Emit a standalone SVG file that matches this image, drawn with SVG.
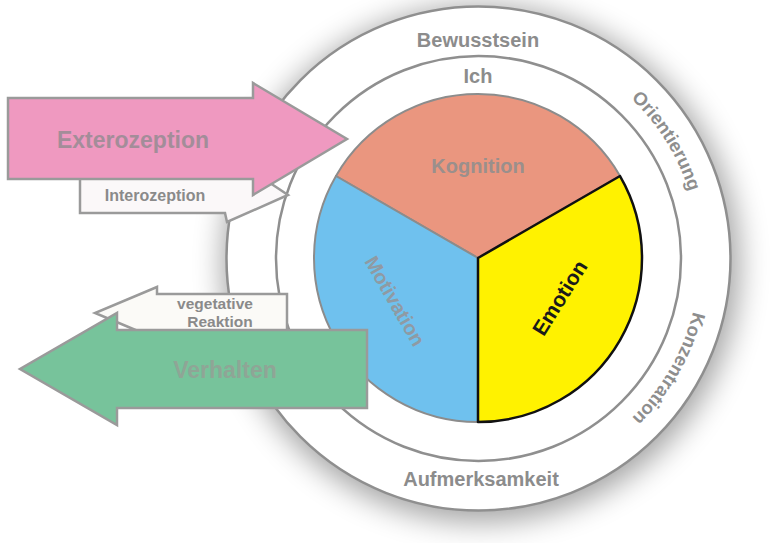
<svg xmlns="http://www.w3.org/2000/svg" width="772" height="543" viewBox="0 0 772 543">
  <style>
    .ring { fill: #ffffff; stroke: #8f8f8f; stroke-width: 2.5; }
    .lbl { font-family: "Liberation Sans", Arial, sans-serif; font-weight: bold; fill: #8c8c8c; text-anchor: middle; }
    .arc { font-family: "Liberation Sans", Arial, sans-serif; font-size: 18.5px; font-weight: bold; fill: #8e8e8e; }
    .arrow { stroke: #9a9a9a; stroke-width: 2.5; stroke-linejoin: miter; }
    .pie { stroke: #8c8c8c; stroke-width: 2; stroke-linejoin: round; }
    .big { font-size: 23px; fill: #9a9a9a; }
    .small { font-size: 15.5px; fill: #8a8a8a; }
  </style>
  <defs>
    <filter id="shadow" x="-30%" y="-30%" width="160%" height="160%">
      <feGaussianBlur stdDeviation="15"/>
    </filter>
    <path id="arcOri" d="M589,67.1 A221,221 0 0 1 698.96,243.08" fill="none"/>
    <path id="arcKon" d="M699.37,266.21 A221,221 0 0 1 595.61,445.92" fill="none"/>
  </defs>

  <rect x="0" y="0" width="772" height="543" fill="#ffffff"/>

  <g id="rings">
    <circle cx="481" cy="264" r="258" fill="#000000" opacity="0.36" filter="url(#shadow)"/>
    <circle id="outer-ring" class="ring" cx="478.5" cy="258.5" r="252"/>
    <circle id="inner-ring" class="ring" cx="478.5" cy="258.5" r="202.5"/>
  </g>

  <g id="bewusstsein"><text class="lbl" x="478" y="47" font-size="20">Bewusstsein</text></g>
  <g id="ich"><text class="lbl" x="478" y="83" font-size="20">Ich</text></g>
  <g id="aufmerksamkeit"><text class="lbl" x="481" y="486" font-size="20">Aufmerksamkeit</text></g>
  <g id="orientierung"><text class="arc"><textPath href="#arcOri" startOffset="50%" text-anchor="middle">Orientierung</textPath></text></g>
  <g id="konzentration"><text class="arc"><textPath href="#arcKon" startOffset="50%" text-anchor="middle">Konzentration</textPath></text></g>

  <g id="kognition">
    <path class="pie" d="M478,258 L335.97,176 A164,164 0 0 1 620.03,176 Z" fill="#EA967F"/>
    <text class="lbl" x="478" y="173" font-size="20" style="fill:#9a8f8c">Kognition</text>
  </g>
  <g id="motivation">
    <path class="pie" d="M478,258 L478,422 A164,164 0 0 1 335.97,176 Z" fill="#6FC1EE"/>
    <text class="lbl" font-size="20" transform="translate(395,301) rotate(60)" x="0" y="7" style="fill:#8f9aa3">Motivation</text>
  </g>
  <g id="emotion">
    <path d="M478,258 L620.03,176 A164,164 0 0 1 478,422 Z" fill="#FFF200" stroke="#111111" stroke-width="2.5" stroke-linejoin="round"/>
    <text class="lbl" font-size="21" transform="translate(560,298) rotate(-58)" x="0" y="7" style="fill:#1a1a1a">Emotion</text>
  </g>

  <g id="interozeption">
    <polygon class="arrow" fill="#FBF8F9" points="80,172 232,172 240,163 288,195 227,222 225,213 80,213"/>
    <text class="lbl small" x="155" y="201" style="font-size:16px">Interozeption</text>
  </g>
  <g id="vegetative-reaktion">
    <polygon class="arrow" fill="#FBFAF7" points="287,294 157,294 157,287 95,313 157,339 157,332 287,332"/>
    <text class="lbl small" x="215" y="309">vegetative</text>
    <text class="lbl small" x="220" y="327">Reaktion</text>
  </g>

  <g id="exterozeption">
    <polygon class="arrow" fill="#EF99C0" points="8,98 253,98 253,83 347,139 253,195 253,179 8,179"/>
    <text class="lbl big" x="133" y="148" style="fill:#a38d99">Exterozeption</text>
  </g>
  <g id="verhalten">
    <polygon class="arrow" fill="#77C39B" points="367,330 117,330 117,313 20,369 117,425 117,408 367,408"/>
    <text class="lbl big" x="225" y="378" style="fill:#8fa596">Verhalten</text>
  </g>

  <g id="connectors"/>
</svg>
